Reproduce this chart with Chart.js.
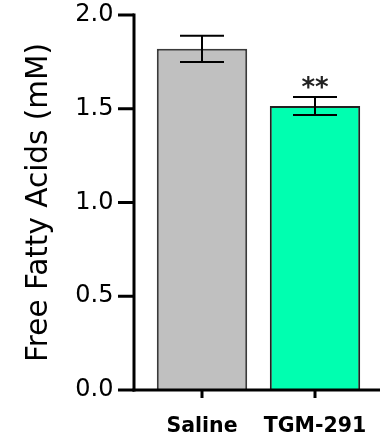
<!DOCTYPE html>
<html>
<head>
<meta charset="utf-8">
<script src="https://cdn.jsdelivr.net/npm/chart.js@4/dist/chart.umd.min.js"></script>
<style>
  body { margin: 0; background: #fff; }
  #wrap { width: 380px; height: 440px; }
</style>
</head>
<body>
<div id="wrap"><canvas id="ffaChart" width="380" height="440"></canvas></div>
<script>
const groups = ['Saline', 'TGM-291'];
const means = [1.82, 1.515];
const sems = [0.07, 0.048];
const stars = ['', '**'];
const yTicks = [0, 0.5, 1.0, 1.5, 2.0];

const fontFam = '"DejaVu Sans", sans-serif';

// axes, error bars and significance marks drawn by hand (GraphPad-style detached axes)
const prismAxes = {
    id: 'prismAxes',
    afterDatasetsDraw(chart) {
        const ctx = chart.ctx;
        const x = chart.scales.x;
        const y = chart.scales.y;
        const axisX = 134;
        const base = y.getPixelForValue(0);
        ctx.save();
        ctx.strokeStyle = '#000';
        ctx.lineWidth = 3;
        ctx.lineCap = 'butt';
        // y axis
        ctx.beginPath();
        ctx.moveTo(axisX, y.getPixelForValue(2.0) - 1.5);
        ctx.lineTo(axisX, base + 1.5);
        ctx.stroke();
        yTicks.forEach(function(v) {
            const py = y.getPixelForValue(v);
            ctx.beginPath();
            ctx.moveTo(118, py);
            ctx.lineTo(axisX, py);
            ctx.stroke();
        });
        // x axis
        ctx.beginPath();
        ctx.moveTo(axisX - 1.5, base);
        ctx.lineTo(380, base);
        ctx.stroke();
        groups.forEach(function(g, i) {
            const px = x.getPixelForValue(i);
            ctx.beginPath();
            ctx.moveTo(px, base);
            ctx.lineTo(px, base + 8);
            ctx.stroke();
        });
        // error bars
        ctx.lineWidth = 2;
        groups.forEach(function(g, i) {
            const px = x.getPixelForValue(i);
            const top = y.getPixelForValue(means[i] + sems[i]);
            const bot = y.getPixelForValue(means[i] - sems[i]);
            ctx.beginPath();
            ctx.moveTo(px, top);
            ctx.lineTo(px, bot);
            ctx.moveTo(px - 22, top);
            ctx.lineTo(px + 22, top);
            ctx.moveTo(px - 22, bot);
            ctx.lineTo(px + 22, bot);
            ctx.stroke();
            if (stars[i]) {
                ctx.fillStyle = '#222';
                ctx.font = 'bold 26px ' + fontFam;
                ctx.textAlign = 'center';
                ctx.textBaseline = 'alphabetic';
                ctx.fillText(stars[i], px, top - 1);
            }
        });
        ctx.restore();
    }
};

const ctx = document.getElementById('ffaChart').getContext('2d');
new Chart(ctx, {
    type: 'bar',
    data: {
        labels: groups,
        datasets: [{
            data: means,
            backgroundColor: ['#c0c0c0', '#00ffb0'],
            borderColor: ['#3a3a3a', '#222222'],
            borderWidth: 2,
            borderSkipped: 'bottom',
            barPercentage: 0.8,
            categoryPercentage: 1.0
        }]
    },
    options: {
        responsive: false,
        animation: false,
        layout: { padding: { left: 0, right: 8.5, top: 15, bottom: 0 } },
        scales: {
            x: {
                grid: { display: false, drawTicks: false },
                border: { display: false },
                ticks: {
                    color: '#000',
                    padding: 24,
                    font: { family: fontFam, size: 20.5, weight: 'bold' }
                },
                afterFit: function(scale) {
                    scale.height = 50;
                    scale.paddingLeft = 0;
                    scale.paddingRight = 0;
                }
            },
            y: {
                min: 0,
                max: 2,
                grid: { display: false, drawTicks: false },
                border: { display: false },
                afterBuildTicks: function(scale) {
                    scale.ticks = yTicks.map(function(v) { return { value: v }; });
                },
                ticks: {
                    color: '#000',
                    padding: 32,
                    font: { family: fontFam, size: 24 },
                    callback: function(value) { return value.toFixed(1); }
                },
                title: {
                    display: true,
                    text: 'Free Fatty Acids (mM)',
                    color: '#000',
                    font: { family: fontFam, size: 29.5 },
                    padding: { top: 22, bottom: 0 }
                },
                afterFit: function(scale) {
                    scale.width = 145.5;
                    scale.paddingTop = 0;
                    scale.paddingBottom = 0;
                }
            }
        },
        plugins: {
            legend: { display: false },
            tooltip: { enabled: false }
        }
    },
    plugins: [prismAxes]
});
</script>
</body>
</html>
